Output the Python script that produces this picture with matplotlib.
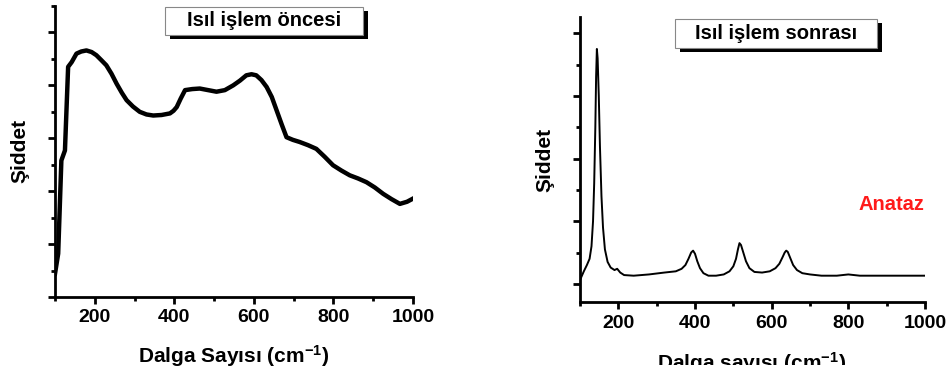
import matplotlib

matplotlib.use("Agg")

import matplotlib.pyplot as plt
from matplotlib.patches import Rectangle
from matplotlib.ticker import MultipleLocator, NullFormatter
from matplotlib.transforms import Bbox

# Isil islem oncesi (genis, gurultulu spektrum)
x_once = [100, 108, 116, 125, 133, 142, 154, 166, 179, 192, 204, 216, 229, 242, 255, 268, 280,
          296, 313, 330, 347, 368, 389, 398, 406, 416, 427, 445, 464, 485, 506, 527, 548, 565,
          581, 594, 606, 619, 632, 645, 657, 670, 682, 698, 715, 736, 757, 778, 799, 820, 841,
          862, 883, 904, 925, 946, 967, 985, 1000]
y_once = [0.44, 0.82, 2.58, 2.77, 4.35, 4.44, 4.60, 4.64, 4.66, 4.63, 4.57, 4.48, 4.38, 4.22, 4.03,
          3.86, 3.72, 3.60, 3.50, 3.45, 3.43, 3.44, 3.47, 3.52, 3.59, 3.75, 3.91, 3.93, 3.94, 3.91,
          3.88, 3.91, 4.00, 4.09, 4.19, 4.21, 4.19, 4.10, 3.97, 3.78, 3.53, 3.26, 3.02, 2.97, 2.93,
          2.87, 2.80, 2.65, 2.49, 2.39, 2.30, 2.24, 2.17, 2.07, 1.95, 1.85, 1.76, 1.80, 1.86]

# Isil islem sonrasi (anataz pikleri)
x_sonra = [100, 110, 118, 125, 130, 134, 137, 140, 142, 144, 146, 149, 152, 156, 160, 165, 172,
           180, 190, 197, 205, 215, 240, 280, 320, 350, 365, 375, 383, 390, 395, 400, 406, 413,
           422, 435, 455, 475, 490, 500, 507, 512, 516, 520, 526, 533, 542, 555, 575, 595, 610,
           620, 628, 634, 638, 642, 648, 656, 666, 680, 700, 730, 770, 800, 830, 880, 940, 1000]
y_sonra = [0.06, 0.20, 0.30, 0.40, 0.60, 1.0, 1.6, 2.5, 3.3, 3.75, 3.6, 3.0, 2.2, 1.4, 0.9, 0.55,
           0.35, 0.26, 0.22, 0.24, 0.18, 0.14, 0.13, 0.15, 0.18, 0.20, 0.24, 0.30, 0.40, 0.50,
           0.53, 0.48, 0.36, 0.25, 0.17, 0.13, 0.13, 0.15, 0.20, 0.28, 0.40, 0.55, 0.65, 0.62,
           0.50, 0.36, 0.25, 0.19, 0.18, 0.20, 0.25, 0.32, 0.42, 0.50, 0.53, 0.51, 0.42, 0.30,
           0.22, 0.17, 0.15, 0.13, 0.13, 0.15, 0.13, 0.13, 0.13, 0.13]

baslik_once = "Isıl işlem öncesi"
baslik_sonra = "Isıl işlem sonrası"
xlabel_once = "Dalga Sayısı (cm$^{-1}$)"
xlabel_sonra = "Dalga sayısı (cm$^{-1}$)"
ylabel = "Şiddet"
faz = "Anataz"

W, H = 952, 374
FONT = "Liberation Sans"

plt.rcParams["font.family"] = [FONT, "DejaVu Sans"]
plt.rcParams["font.weight"] = "bold"
plt.rcParams["mathtext.fontset"] = "custom"
plt.rcParams["mathtext.rm"] = "Liberation Sans:bold"
plt.rcParams["mathtext.it"] = "Liberation Sans:bold"
plt.rcParams["mathtext.bf"] = "Liberation Sans:bold"


def px_ax(fig, x0, y0, x1, y1):
    # piksel kutusu (ustten) -> eksen
    return fig.add_axes([x0 / W, 1 - y1 / H, (x1 - x0) / W, (y1 - y0) / H])


def fx(x):
    return x / W


def fy(y):
    return 1 - y / H


def stil(ax, ymaj, ymin):
    for s in ["top", "right"]:
        ax.spines[s].set_visible(False)
    for s in ["left", "bottom"]:
        ax.spines[s].set_linewidth(2)
    ax.xaxis.set_major_locator(MultipleLocator(200))
    ax.xaxis.set_minor_locator(MultipleLocator(100))
    ax.yaxis.set_major_locator(MultipleLocator(ymaj))
    ax.yaxis.set_minor_locator(MultipleLocator(ymin))
    ax.yaxis.set_major_formatter(NullFormatter())
    ax.tick_params(which="major", direction="out", length=5, width=2, labelsize=14, pad=4)
    ax.tick_params(which="minor", direction="out", length=3, width=2)
    for lab in ax.get_xticklabels():
        lab.set_fontweight("bold")


def baslik_kutusu(fig, x0, y0, x1, y1, metin):
    fig.patches.append(Rectangle((fx(x0 + 5), fy(y1 + 4)), fx(x1 - x0), (y1 - y0) / H,
                                 transform=fig.transFigure, facecolor="black", edgecolor="none"))
    fig.patches.append(Rectangle((fx(x0), fy(y1)), fx(x1 - x0), (y1 - y0) / H,
                                 transform=fig.transFigure, facecolor="white", edgecolor="#888888",
                                 linewidth=0.8))
    fig.text(fx((x0 + x1) / 2), fy((y0 + y1) / 2), metin, ha="center", va="center",
             fontsize=14.5, fontweight="bold")


fig = plt.figure(figsize=(W / 100, H / 100), dpi=100)

# sol panel
ax1 = px_ax(fig, 55, 6, 413, 297)
ax1.plot(x_once, y_once, color="black", lw=3.2, solid_joinstyle="round")
ax1.set_xlim(100, 1000)
ax1.set_ylim(0, 5.5)
stil(ax1, 1, 0.5)
fig.text(fx(20), fy(151), ylabel, rotation=90, ha="center", va="center", fontsize=15,
         fontweight="bold")
fig.text(fx(234), fy(343), xlabel_once, ha="center", va="top", fontsize=15, fontweight="bold")
baslik_kutusu(fig, 165, 7, 363, 35, baslik_once)

# sag panel
ax2 = px_ax(fig, 580, 17, 925, 302)
ax2.plot(x_sonra, y_sonra, color="black", lw=1.4)
ax2.set_xlim(100, 1000)
ax2.set_ylim(-0.29, 4.26)
stil(ax2, 1, 0.5)
fig.text(fx(545), fy(160), ylabel, rotation=90, ha="center", va="center", fontsize=15,
         fontweight="bold")
t = fig.text(fx(752), fy(350), xlabel_sonra, ha="center", va="top", fontsize=15,
             fontweight="bold")
t.set_clip_box(Bbox([[0, H - 365], [W, H]]))
t.set_clip_on(True)
fig.text(fx(891), fy(205), faz, ha="center", va="center", fontsize=14.5, fontweight="bold",
         color="#ff1a1a")
baslik_kutusu(fig, 675, 19, 877, 48, baslik_sonra)

fig.savefig("out.png", dpi=100)
